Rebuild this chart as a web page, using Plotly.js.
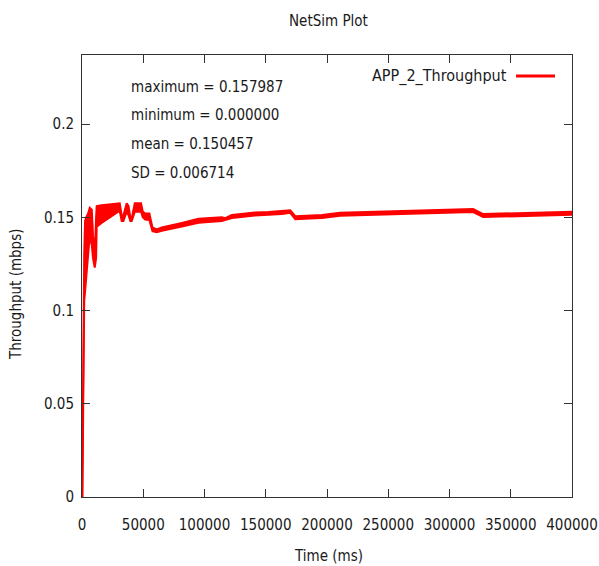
<!DOCTYPE html>
<html>
<head>
<meta charset="utf-8">
<script src="https://cdn.plot.ly/plotly-3.0.1.min.js"></script>
<style>html,body{margin:0;padding:0;background:#fff;}#plot{width:599px;height:566px;}</style>
</head>
<body>
<div id="plot"></div>
<script>
// Time (ms) samples and upper/lower envelope of the oscillating throughput (mbps)
var timeMs = [0, 400, 1000, 1800, 2500, 3500, 5000, 6300, 8000, 9000, 10400, 11500, 12000, 16000, 21600, 30800, 32400, 33800, 36500, 38000, 39500, 40600, 43100, 48200, 49600, 51600, 55000, 57500, 61000, 65100, 81500, 95100, 114200, 116900, 122300, 141100, 152300, 163200, 170000, 174100, 190400, 195900, 210600, 243300, 284100, 319300, 327500, 349600, 368400, 400000];
var upperMbps = [0, 0.02, 0.065, 0.13, 0.148, 0.15, 0.152, 0.155, 0.154, 0.14, 0.13, 0.15, 0.156, 0.1565, 0.157, 0.1575, 0.151, 0.151, 0.1575, 0.156, 0.1495, 0.1495, 0.1575, 0.1575, 0.153, 0.152, 0.152, 0.1445, 0.1435, 0.1445, 0.147, 0.1492, 0.150, 0.1495, 0.1512, 0.1525, 0.1528, 0.1532, 0.1538, 0.1506, 0.151, 0.1512, 0.1524, 0.153, 0.1539, 0.1544, 0.1517, 0.1521, 0.1526, 0.153];
var lowerMbps = [0, 0.0, 0.05, 0.105, 0.11, 0.12, 0.13, 0.14, 0.135, 0.128, 0.123, 0.128, 0.145, 0.147, 0.1495, 0.1535, 0.148, 0.148, 0.153, 0.151, 0.148, 0.148, 0.153, 0.153, 0.150, 0.1488, 0.1485, 0.1425, 0.142, 0.1428, 0.145, 0.147, 0.148, 0.1485, 0.1496, 0.1509, 0.1512, 0.1518, 0.1524, 0.149, 0.1494, 0.1496, 0.1508, 0.1514, 0.1523, 0.1528, 0.1501, 0.1505, 0.151, 0.1514];
var xTicks = [0, 50000, 100000, 150000, 200000, 250000, 300000, 350000, 400000];
var xTickText = ['0', '50000', '100000', '150000', '200000', '250000', '300000', '350000', '400000'];
var yTicks = [0, 0.05, 0.1, 0.15, 0.2];
var yTickText = ['0', '0.05', '0.1', '0.15', '0.2'];
var statLines = ['maximum = 0.157987', 'minimum = 0.000000', 'mean = 0.150457', 'SD = 0.006714'];
var seriesName = 'APP_2_Throughput';

var W = 599, H = 566, L = 82, R = 572, T = 55, B = 497;
function px(x) { return (x - L) / (R - L); }
function py(y) { return (B - y) / (B - T); }
var FONT = '"DejaVu Sans Condensed", "DejaVu Sans", sans-serif';
var FS = 15, TXT = '#1a1a1a', RED = '#ff0000';

var traces = [
  { x: timeMs, y: lowerMbps, type: 'scatter', mode: 'lines', line: { color: RED, width: 2 }, showlegend: false, hoverinfo: 'skip' },
  { x: timeMs, y: upperMbps, type: 'scatter', mode: 'lines', fill: 'tonexty', fillcolor: RED, line: { color: RED, width: 2 }, name: seriesName, showlegend: false }
];

var annotations = [];
var statY = [87, 115.5, 144, 173];
statLines.forEach(function (s, i) {
  annotations.push({ xref: 'paper', yref: 'paper', x: px(129), y: py(statY[i]), xanchor: 'left', yanchor: 'middle', text: s, showarrow: false, font: { family: FONT, size: FS, color: TXT } });
});
annotations.push({ xref: 'paper', yref: 'paper', x: px(509), y: py(76), xanchor: 'right', yanchor: 'middle', text: seriesName, showarrow: false, font: { family: FONT, size: 16, color: TXT } });
annotations.push({ xref: 'paper', yref: 'paper', x: px(16), y: py(294), xanchor: 'center', yanchor: 'middle', textangle: -90, text: 'Throughput (mbps)', showarrow: false, font: { family: FONT, size: FS, color: TXT } });
annotations.push({ xref: 'paper', yref: 'paper', x: px(328), y: py(556), xanchor: 'center', yanchor: 'middle', text: 'Time (ms)', showarrow: false, font: { family: FONT, size: FS, color: TXT } });
annotations.push({ xref: 'paper', yref: 'paper', x: px(328), y: py(21), xanchor: 'center', yanchor: 'middle', text: 'NetSim Plot', showarrow: false, font: { family: FONT, size: FS, color: TXT } });

var layout = {
  width: W, height: H,
  margin: { l: L, r: W - R, t: T, b: H - B, pad: 0 },
  paper_bgcolor: '#fff', plot_bgcolor: '#fff',
  showlegend: false,
  font: { family: FONT, size: FS, color: TXT },
  xaxis: {
    range: [0, 400000], tickmode: 'array', tickvals: xTicks, ticktext: xTickText,
    tickangle: 0, automargin: false,
    ticks: 'inside', ticklen: 8, tickwidth: 1, tickcolor: '#333',
    showline: true, linecolor: '#333', linewidth: 1, mirror: 'ticks',
    showgrid: false, zeroline: false, ticklabelstandoff: 14,
    tickfont: { family: FONT, size: FS, color: TXT }
  },
  yaxis: {
    range: [0, 0.237], tickmode: 'array', tickvals: yTicks, ticktext: yTickText,
    automargin: false,
    ticks: 'inside', ticklen: 8, tickwidth: 1, tickcolor: '#333',
    showline: true, linecolor: '#333', linewidth: 1, mirror: 'ticks',
    showgrid: false, zeroline: false, ticklabelstandoff: 4,
    tickfont: { family: FONT, size: FS, color: TXT }
  },
  shapes: [
    { type: 'line', xref: 'paper', yref: 'paper', x0: px(516), x1: px(555), y0: py(76), y1: py(76), line: { color: RED, width: 3 } }
  ],
  annotations: annotations
};

Plotly.newPlot('plot', traces, layout, { displayModeBar: false, staticPlot: true });
</script>
</body>
</html>
